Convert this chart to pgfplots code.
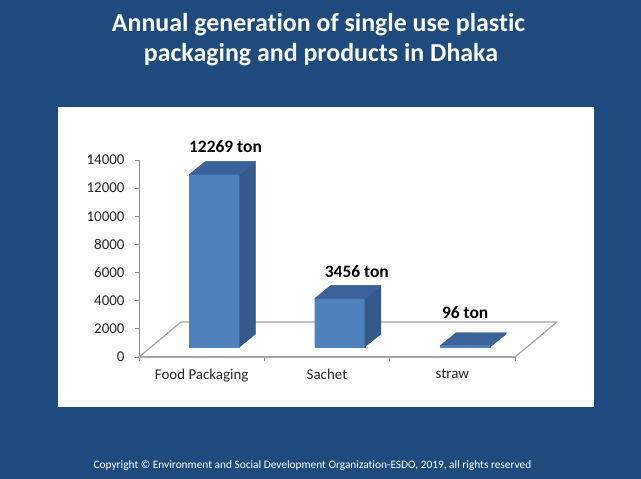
\documentclass[border=0pt]{standalone}
\usepackage{pgfplots}
\pgfplotsset{compat=1.18}
\usepackage{pgfplotstable}
\usepackage{fontspec}
\setmainfont{Carlito}[Ligatures=NoCommon]
\definecolor{bg}{HTML}{1F4A7E}
\definecolor{barfront}{HTML}{4F81BD}
\definecolor{barside}{HTML}{35598A}
\definecolor{bartop}{HTML}{3B629B}
\definecolor{floorc}{HTML}{A6A6A6}
\definecolor{axisc}{HTML}{8C8C8C}

\pgfplotstableread{
x v lx ly
0 12269 11 22
1 3456 17 21
2 96 0 27
}\data

\begin{document}
\begin{tikzpicture}
\fill[bg] (0bp,0bp) rectangle (641bp,-479bp);
\fill[white] (58bp,-107bp) rectangle (594bp,-407bp);
\node[anchor=base, text=white, inner sep=0pt, font=\bfseries\fontsize{26}{30}\selectfont] at (318.5bp,-31.5bp) {Annual generation of single use plastic};
\node[anchor=base, text=white, inner sep=0pt, font=\bfseries\fontsize{26}{30}\selectfont] at (321bp,-61.5bp) {packaging and products in Dhaka};
\node[anchor=base, text=white, inner sep=0pt, font=\fontsize{11.4}{13}\selectfont] at (312.5bp,-468bp) {Copyright © Environment and Social Development Organization-ESDO, 2019, all rights reserved};

\begin{axis}[
  anchor=south west, at={(139bp,-357bp)},
  width=376bp, height=197bp, scale only axis,
  xmin=-0.5, xmax=2.5, ymin=0, ymax=14000,
  clip=false,
  axis lines*=left,
  x axis line style={draw=floorc, line width=1.2bp},
  y axis line style={draw=axisc, line width=1bp},
  /pgf/number format/assume math mode=true,
  /pgf/number format/1000 sep={},
  scaled y ticks=false,
  ytick={0,2000,...,14000},
  xtick={-0.5,0.5,1.5,2.5},
  xticklabels={},
  extra x ticks={0,1,2},
  extra x tick labels={Food Packaging,Sachet,straw},
  extra x tick style={major tick length=0pt},
  tick align=outside,
  major tick length=4bp,
  tick style={draw=axisc, line width=0.8bp},
  ticklabel style={font=\fontsize{15}{17}\selectfont, text=black!85},
  yticklabel style={xshift=-7bp},
  xticklabel style={yshift=-9bp},
]
\addplot[draw=floorc, line width=1.2bp] coordinates {(-0.5,0) (-0.165,2487) (2.835,2487) (2.5,0)} -- cycle;
\end{axis}

\begin{axis}[
  anchor=south west, at={(151.8bp,-347bp)},
  width=376bp, height=197bp, scale only axis,
  xmin=-0.5, xmax=2.5, ymin=0, ymax=14000,
  clip=false, hide axis,
]
\addplot[ybar, bar width=0.4, fill=barfront, draw=barfront, line width=0.3bp,
  point meta=y,
  visualization depends on={\thisrow{lx} \as \lx},
  visualization depends on={\thisrow{ly} \as \ly},
  nodes near coords={\pgfmathprintnumber[assume math mode=true,1000 sep={}]{\pgfplotspointmeta}~ton},
  every node near coord/.append style={anchor=base, inner sep=0pt, xshift=\lx bp, yshift=\ly bp, font=\bfseries\fontsize{17.5}{20}\selectfont, text=black},
] table[x=x, y=v] {\data};
\addplot[fill=barside, draw=barside, line width=0.3bp] coordinates {(0.2,0) (0.328,924) (0.328,13193) (0.2,12269)} -- cycle;
\addplot[fill=bartop, draw=bartop, line width=0.3bp] coordinates {(-0.2,12269) (0.2,12269) (0.328,13193) (-0.072,13193)} -- cycle;
\addplot[fill=barside, draw=barside, line width=0.3bp] coordinates {(1.2,0) (1.328,924) (1.328,4380) (1.2,3456)} -- cycle;
\addplot[fill=bartop, draw=bartop, line width=0.3bp] coordinates {(0.8,3456) (1.2,3456) (1.328,4380) (0.928,4380)} -- cycle;
\addplot[fill=barside, draw=barside, line width=0.3bp] coordinates {(2.2,0) (2.328,924) (2.328,1020) (2.2,96)} -- cycle;
\addplot[fill=bartop, draw=bartop, line width=0.3bp] coordinates {(1.8,96) (2.2,96) (2.328,1020) (1.928,1020)} -- cycle;
\end{axis}
\end{tikzpicture}
\end{document}
